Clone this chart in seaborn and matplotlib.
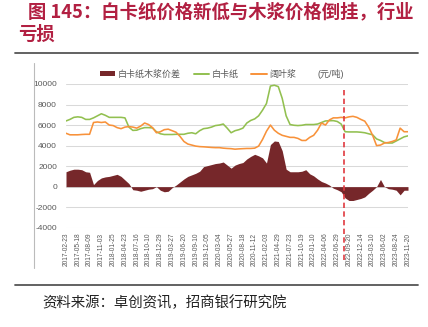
import numpy as np
import pandas as pd
import matplotlib
matplotlib.use("Agg")
import matplotlib.pyplot as plt
import seaborn as sns
from matplotlib.lines import Line2D
from matplotlib.patches import Patch

# ---------------- data ----------------
tick_labels = [
    "2017-02-23", "2017-05-18", "2017-08-09", "2017-11-03", "2018-01-25",
    "2018-04-23", "2018-07-16", "2018-10-10", "2018-12-29", "2019-03-27",
    "2019-06-20", "2019-09-10", "2019-12-05", "2020-03-04", "2020-05-27",
    "2020-08-18", "2020-11-12", "2021-02-03", "2021-04-29", "2021-07-23",
    "2021-10-19", "2022-01-10", "2022-04-06", "2022-06-29", "2022-09-20",
    "2022-12-14", "2023-03-10", "2023-06-02", "2023-08-24", "2023-11-20",
]

# 白卡纸 (3 samples per labelled interval)
paper = [
    6400, 6550, 6750, 6800, 6750, 6550, 6550, 6700, 6900, 7100,
    6950, 6750, 6750, 6750, 6750, 6700, 5800, 5480, 5500, 5650,
    5750, 5750, 5720, 5350, 5150, 5080, 5080, 5080, 5100, 5100,
    5100, 5200, 5250, 5150, 5450, 5650, 5700, 5800, 5950, 6000,
    6100, 5700, 5250, 5450, 5550, 5700, 6200, 6450, 6600, 6900,
    7450, 8100, 9800, 9880, 9750, 8600, 6900, 6050, 5980, 5950,
    5980, 6050, 6050, 6050, 6100, 6250, 6400, 6420, 6430, 6350,
    6100, 5350, 5330, 5330, 5330, 5300, 5250, 5150, 5050, 4650,
    4500, 4300, 4250, 4250, 4450, 4650, 4850, 4950,
]

# 阔叶浆
pulp = [
    5200, 5050, 5050, 5050, 5080, 5100, 5100, 6250, 6300, 6250,
    6300, 6000, 5950, 5750, 5650, 5800, 5850, 5800, 5700, 5900,
    6200, 6050, 5750, 5250, 5350, 5550, 5600, 5450, 5300, 4900,
    4400, 4150, 4050, 3950, 3900, 3880, 3850, 3820, 3800, 3800,
    3750, 3720, 3700, 3650, 3680, 3700, 3720, 3720, 3750, 3950,
    4600, 5400, 6000, 5500, 5200, 5000, 4900, 4800, 4800, 4700,
    4500, 4500, 4800, 5000, 5500, 6200, 6000, 6500, 6700, 6700,
    6750, 6700, 6800, 6850, 6750, 6550, 6380, 5800, 5000, 4000,
    4050, 4250, 4300, 4400, 4550, 5700, 5350, 5350,
]

# 白卡纸木浆价差
spread = [
    1450, 1600, 1700, 1700, 1650, 1450, 1400, 200, 600, 850,
    950, 1000, 1100, 1200, 1000, 650, 300, -300, -350, -450,
    -350, -250, -200, 0, -350, -500, -450, -100, 150, 450,
    750, 1000, 1150, 1300, 1500, 1950, 2050, 2150, 2250, 2300,
    2400, 2100, 1800, 2100, 2250, 2350, 2700, 2950, 3150, 3000,
    2800, 2300, 4100, 4450, 4400, 3500, 1700, 1450, 1450, 1450,
    1500, 1650, 1250, 1050, 750, 500, 350, 150, -150, -300,
    -500, -1100, -1350, -1350, -1250, -1150, -1000, -650, -350, 0,
    700, 0, -200, -250, -350, -800, -350, -350,
]

series_names = ["白卡纸木浆价差", "白卡纸", "阔叶浆"]
unit_label = "(元/吨)"
title_line1 = "图 145：白卡纸价格新低与木浆价格倒挂，行业"
title_line2 = "亏损"
source_text = "资料来源：卓创资讯，招商银行研究院"
event_index = 23.55  # dashed marker between 2022-06-29 and 2022-09-20

# ---------------- style ----------------
maroon = "#76272A"
green = "#92C050"
orange = "#F8923A"
red_dash = "#E03A40"
title_red = "#B22042"
grey_txt = "#595959"

sns.set_theme(style="white")
plt.rcParams["font.family"] = ["Liberation Sans", "Noto Sans CJK SC", "DejaVu Sans"]

W, H = 428, 327
fig = plt.figure(figsize=(W / 100, H / 100), dpi=100)
fig.patch.set_facecolor("white")

ax_left, ax_right, ax_top, ax_bot = 66, 408, 84, 227.7
ax = fig.add_axes([ax_left / W, 1 - ax_bot / H, (ax_right - ax_left) / W, (ax_bot - ax_top) / H])

n = len(paper)
df = pd.DataFrame({
    "x": np.arange(n) / 3.0,
    "paper": paper,
    "pulp": pulp,
    "spread": spread,
})

ax.fill_between(df["x"], 0, df["spread"], color=maroon, linewidth=0, zorder=2)
sns.lineplot(data=df, x="x", y="paper", color=green, linewidth=1.15, ax=ax, zorder=3)
sns.lineplot(data=df, x="x", y="pulp", color=orange, linewidth=1.15, ax=ax, zorder=3)

ax.set_xlim(0, len(tick_labels) - 1)
ax.set_ylim(-4000, 10000)
ax.set_yticks(np.arange(-4000, 10001, 2000))
ax.set_yticklabels([str(v) for v in range(-4000, 10001, 2000)], fontsize=6, color=grey_txt)
ax.set_xticks(np.arange(len(tick_labels)))
ax.set_xticklabels(tick_labels, rotation=90, fontsize=4.8, color=grey_txt)
ax.tick_params(axis="both", length=0)
ax.tick_params(axis="y", pad=6.5)
ax.tick_params(axis="x", pad=3.5)
ax.set_xlabel("")
ax.set_ylabel("")
for s in ax.spines.values():
    s.set_visible(False)
ax.grid(axis="y", color="#D9D9D9", linewidth=0.75)
ax.grid(axis="x", visible=False)
ax.set_axisbelow(True)

ax.axvline(event_index, ymin=-0.225, ymax=0.958, color=red_dash, linewidth=1.2,
           dashes=(3.2, 2.0), clip_on=False, zorder=4)

handles = [
    Patch(facecolor=maroon, edgecolor="none"),
    Line2D([], [], color=green, linewidth=1.4),
    Line2D([], [], color=orange, linewidth=1.4),
]
leg = fig.legend(handles, series_names, loc="center left",
                 bbox_to_anchor=(100 / W, 1 - 74 / H), ncol=3, frameon=False,
                 fontsize=6.5, handlelength=1.7, handleheight=0.55,
                 handletextpad=0.3, columnspacing=1.4, borderpad=0, borderaxespad=0)
for t in leg.get_texts():
    t.set_color(grey_txt)
fig.text(318 / W, 1 - 74 / H, unit_label, va="center", ha="left", fontsize=6.5, color=grey_txt)

# title
fig.text(28 / W, 1 - 12 / H, title_line1, ha="left", va="center", fontsize=13.2,
         fontweight="bold", color=title_red, family=["Noto Sans CJK SC", "DejaVu Sans"])
fig.text(18 / W, 1 - 34 / H, title_line2, ha="left", va="center", fontsize=13.2,
         fontweight="bold", color=title_red, family=["Noto Sans CJK SC", "DejaVu Sans"])

# rules and frame line
fig.add_artist(Line2D([15 / W, 418 / W], [1 - 53.3 / H, 1 - 53.3 / H], color="#555555", linewidth=1.3))
fig.add_artist(Line2D([15 / W, 418 / W], [1 - 285 / H, 1 - 285 / H], color="#555555", linewidth=1.3))
fig.add_artist(Line2D([33.5 / W, 33.5 / W], [1 - 63 / H, 1 - 268 / H], color="#BBBBBB", linewidth=0.8))

fig.text(42 / W, 1 - 303 / H, source_text, ha="left", va="center", fontsize=10.4,
         color="#222222", family=["Noto Sans CJK SC", "DejaVu Sans"])

fig.savefig("out.png", dpi=100, facecolor="white")
